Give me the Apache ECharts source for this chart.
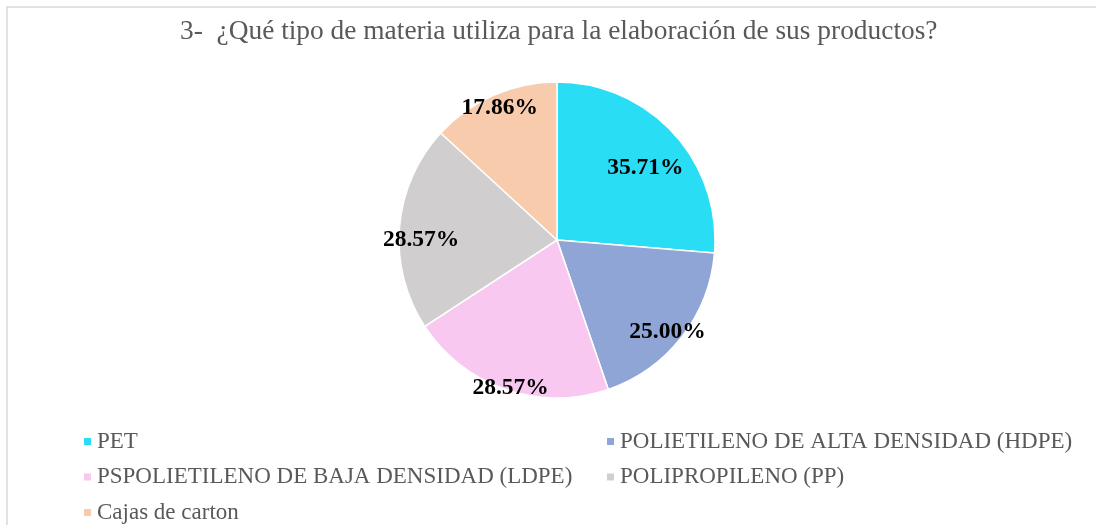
<!DOCTYPE html>
<html>
<head>
<meta charset="utf-8">
<script src="https://cdn.jsdelivr.net/npm/echarts@6/dist/echarts.min.js"></script>
<style>
html,body{margin:0;padding:0;background:#fff;}
#chart{width:1096px;height:525px;}
</style>
</head>
<body>
<div id="chart"></div>
<script>
const titleText = '3-  ¿Qué tipo de materia utiliza para la elaboración de sus productos?';
const categories = ['PET', 'POLIETILENO DE ALTA DENSIDAD (HDPE)', 'PSPOLIETILENO DE BAJA DENSIDAD (LDPE)', 'POLIPROPILENO (PP)', 'Cajas de carton'];
const values = [35.71, 25.00, 28.57, 28.57, 17.86];
const colors = ['#29DDF5', '#8FA5D5', '#F9C8F0', '#D0CECF', '#F7CBAC'];
const legendCol1 = ['PET', 'PSPOLIETILENO DE BAJA DENSIDAD (LDPE)', 'Cajas de carton'];
const legendCol2 = ['POLIETILENO DE ALTA DENSIDAD (HDPE)', 'POLIPROPILENO (PP)'];
// label placement style: radial fraction of radius and angular nudge (deg)
const labelFrac = [0.726, 0.904, 0.975, 0.86, 0.917];
const labelTurn = [3, 1.4, -1.4, -3.9, 0.4];

const CX = 557, CY = 240, R = 158;
const serif = '"Liberation Serif", "Times New Roman", serif';

const chart = echarts.init(document.getElementById('chart'));
const legendBase = {
  orient: 'vertical',
  icon: 'rect',
  itemWidth: 9,
  itemHeight: 9,
  itemGap: 12.5,
  height: 120,
  padding: 0,
  textStyle: { fontFamily: serif, fontSize: 23, color: '#595959' },
  selectedMode: false
};
chart.setOption({
  animation: false,
  backgroundColor: '#fff',
  color: colors,
  title: {
    text: titleText,
    left: 175,
    top: 13,
    textStyle: { fontFamily: serif, fontSize: 27.4, fontWeight: 'normal', color: '#595959' }
  },
  legend: [
    Object.assign({}, legendBase, { data: legendCol1, left: 82, top: 430 }),
    Object.assign({}, legendBase, { data: legendCol2, left: 605, top: 430 })
  ],
  graphic: [{
    type: 'polyline',
    shape: { points: [[7, 525], [7, 7], [1096, 7]] },
    style: { stroke: '#d9d9d9', lineWidth: 1.5, fill: null }
  }],
  series: [{
    type: 'pie',
    center: [CX, CY],
    radius: [0, R],
    startAngle: 90,
    clockwise: true,
    data: categories.map((c, i) => ({ name: c, value: values[i] })),
    itemStyle: { borderColor: '#fff', borderWidth: 1.5 },
    label: {
      position: 'inside',
      formatter: p => p.value.toFixed(2) + '%',
      fontFamily: serif,
      fontSize: 23.5,
      fontWeight: 'bold',
      color: '#000'
    },
    labelLine: { show: false },
    labelLayout: function (params) {
      const lr = params.labelRect;
      const lx = lr.x + lr.width / 2, ly = lr.y + lr.height / 2;
      const a = Math.atan2(lx - CX, -(ly - CY)) + labelTurn[params.dataIndex] * Math.PI / 180;
      const d = labelFrac[params.dataIndex] * R;
      return { x: CX + d * Math.sin(a), y: CY - d * Math.cos(a) + 1.5, align: 'center', verticalAlign: 'middle' };
    }
  }]
});
</script>
</body>
</html>
